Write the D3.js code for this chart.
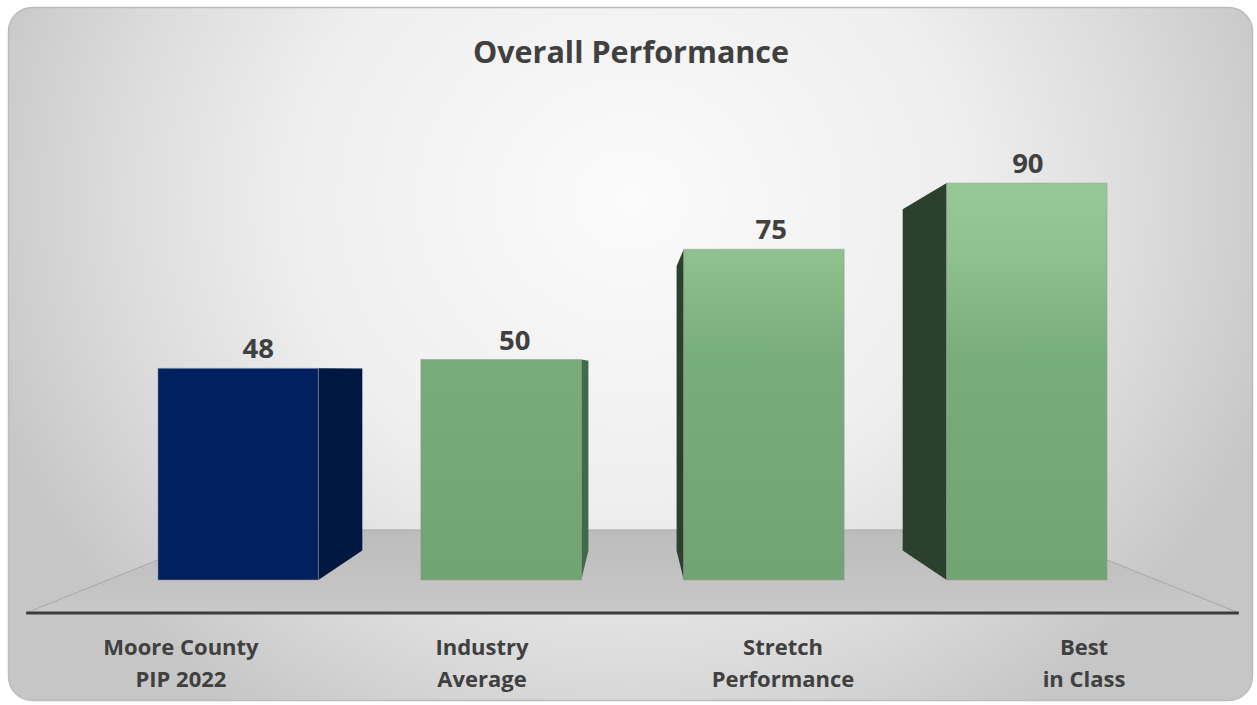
<!DOCTYPE html>
<html>
<head>
<meta charset="utf-8">
<script src="https://cdn.jsdelivr.net/npm/d3@7/dist/d3.min.js"></script>
<style>
  html, body { margin: 0; padding: 0; background: #ffffff; }
  svg { display: block; }
</style>
</head>
<body>
<svg id="chart" width="1257" height="705"></svg>
<script>
// ---- data ----
const chartTitle = "Overall Performance";
const categories = ["Moore County|PIP 2022", "Industry|Average", "Stretch|Performance", "Best|in Class"];
const values = [48, 50, 75, 90];
const seriesKind = ["county", "benchmark", "benchmark", "benchmark"];

// ---- layout ----
const W = 1257, H = 705;
const svg = d3.select("#chart");
const defs = svg.append("defs");

const x = d3.scaleBand()
  .domain(categories)
  .range([108, 1157])
  .paddingInner(0.39)
  .paddingOuter(0.19);

const y = d3.scaleLinear().domain([0, 100]).range([580, 139]);

// simple one-point perspective: the front plane of the bars has depth factor 1
const VP = { x: (x.range()[0] + x.range()[1]) / 2, y: 369 };
const depthBack = 0.86;     // back faces of the bars
const floorFront = 1.156;   // front edge of the floor
const floorBack = 0.763;    // back edge of the floor
const labelDepth = 1.145;   // category labels sit on the floor's front edge
const proj = (px, py, f) => [VP.x + (px - VP.x) * f, VP.y + (py - VP.y) * f];

// ---- gradients ----
const bg = defs.append("radialGradient")
  .attr("id", "bgGrad")
  .attr("gradientUnits", "userSpaceOnUse")
  .attr("cx", 0).attr("cy", 0).attr("r", 1)
  .attr("gradientTransform", "translate(630,200) scale(680,620)");
[[0, "#fbfbfb"], [0.5, "#eeeeee"], [0.75, "#dcdcdc"], [1, "#c6c6c6"]]
  .forEach(([o, c]) => bg.append("stop").attr("offset", o).attr("stop-color", c));

const green = defs.append("linearGradient")
  .attr("id", "greenFront")
  .attr("gradientUnits", "userSpaceOnUse")
  .attr("x1", 0).attr("x2", 0)
  .attr("y1", y(100)).attr("y2", y(0));
[[0.1, "#96c996"], [0.25, "#8fc28f"], [0.5, "#78ac7a"], [1, "#70a473"]]
  .forEach(([o, c]) => green.append("stop").attr("offset", o).attr("stop-color", c));

const floorGrad = defs.append("linearGradient")
  .attr("id", "floorGrad")
  .attr("gradientUnits", "userSpaceOnUse")
  .attr("x1", 0).attr("x2", 0)
  .attr("y1", proj(0, y(0), floorBack)[1]).attr("y2", proj(0, y(0), floorFront)[1]);
[[0, "#bcbcbc"], [0.7, "#c4c4c4"], [1, "#c9c9c9"]]
  .forEach(([o, c]) => floorGrad.append("stop").attr("offset", o).attr("stop-color", c));

// ---- chart area ----
svg.append("rect")
  .attr("x", 8.5).attr("y", 7.5)
  .attr("width", 1244).attr("height", 693)
  .attr("rx", 24).attr("ry", 24)
  .attr("fill", "url(#bgGrad)")
  .attr("stroke", "#bcbcbc")
  .attr("stroke-width", 1.5);

svg.append("text")
  .attr("x", 631).attr("y", 63)
  .attr("text-anchor", "middle")
  .attr("font-family", "'Open Sans', sans-serif")
  .attr("font-weight", 700)
  .attr("font-size", 30.5)
  .attr("fill", "#404040")
  .text(chartTitle);

// ---- floor ----
const [fx0, fx1] = x.range();
const floorPts = [
  proj(fx0, y(0), floorBack), proj(fx1, y(0), floorBack),
  proj(fx1, y(0), floorFront), proj(fx0, y(0), floorFront)
];
svg.append("polygon")
  .attr("points", floorPts.map(p => p.join(",")).join(" "))
  .attr("fill", "url(#floorGrad)")
  .attr("stroke", "#a8a8a8")
  .attr("stroke-width", 1);
svg.append("line")
  .attr("x1", floorPts[3][0]).attr("x2", floorPts[2][0])
  .attr("y1", floorPts[3][1]).attr("y2", floorPts[2][1])
  .attr("stroke", "#3c3c3c")
  .attr("stroke-width", 3);

// ---- bars ----
const palette = {
  county:    { front: "#002060", right: "#00183f", left: "#00163a" },
  benchmark: { front: "url(#greenFront)", right: "#3f6c48", left: "#2b412e" }
};

const bars = svg.append("g").selectAll("g")
  .data(categories.map((c, i) => ({ cat: c, value: values[i], kind: seriesKind[i] })))
  .join("g");

bars.each(function (d) {
  const g = d3.select(this);
  const xl = x(d.cat), xr = xl + x.bandwidth();
  const yt = y(d.value), yb = y(0);
  const col = palette[d.kind];

  // visible side face, facing the vanishing point
  let side = null, sideFill = null;
  if (xr < VP.x) {
    side = [[xr, yt], proj(xr, yt, depthBack), proj(xr, yb, depthBack), [xr, yb]];
    sideFill = col.right;
  } else if (xl > VP.x) {
    side = [[xl, yt], proj(xl, yt, depthBack), proj(xl, yb, depthBack), [xl, yb]];
    sideFill = col.left;
  }
  if (side) {
    g.append("polygon")
      .attr("points", side.map(p => p.join(",")).join(" "))
      .attr("fill", sideFill);
  }
  // top face only shows when the top lies below the horizon
  if (yt > VP.y) {
    const top = [[xl, yt], [xr, yt], proj(xr, yt, depthBack), proj(xl, yt, depthBack)];
    g.append("polygon")
      .attr("points", top.map(p => p.join(",")).join(" "))
      .attr("fill", d3.color(d.kind === "county" ? "#002060" : "#9ccd9c").brighter(0.3));
  }
  g.append("rect")
    .attr("x", xl).attr("y", yt)
    .attr("width", x.bandwidth()).attr("height", yb - yt)
    .attr("fill", col.front)
    .attr("stroke", "#9a9a9a")
    .attr("stroke-opacity", 0.55)
    .attr("stroke-width", 1);
});

// ---- value labels ----
const centers = categories.map(c => x(c) + x.bandwidth() / 2);
const labelShift = d3.scaleLinear()
  .domain([centers[0], centers[centers.length - 1]])
  .range([20, 1]);

bars.append("text")
  .attr("x", d => x(d.cat) + x.bandwidth() / 2 + labelShift(x(d.cat) + x.bandwidth() / 2))
  .attr("y", d => y(d.value) - 10)
  .attr("text-anchor", "middle")
  .attr("font-family", "'Open Sans', sans-serif")
  .attr("font-weight", 700)
  .attr("font-size", 27.5)
  .attr("fill", "#404040")
  .text(d => d.value);

// ---- category labels ----
const catLabels = svg.append("g").selectAll("text")
  .data(categories)
  .join("text")
  .attr("x", c => proj(x(c) + x.bandwidth() / 2, y(0), labelDepth)[0])
  .attr("y", 655)
  .attr("text-anchor", "middle")
  .attr("font-family", "'Open Sans', sans-serif")
  .attr("font-weight", 700)
  .attr("font-size", 22)
  .attr("fill", "#404040");

catLabels.each(function (c) {
  const t = d3.select(this);
  const cx = t.attr("x");
  c.split("|").forEach((line, k) => {
    t.append("tspan").attr("x", cx).attr("dy", k === 0 ? 0 : 32).text(line);
  });
});
</script>
</body>
</html>
